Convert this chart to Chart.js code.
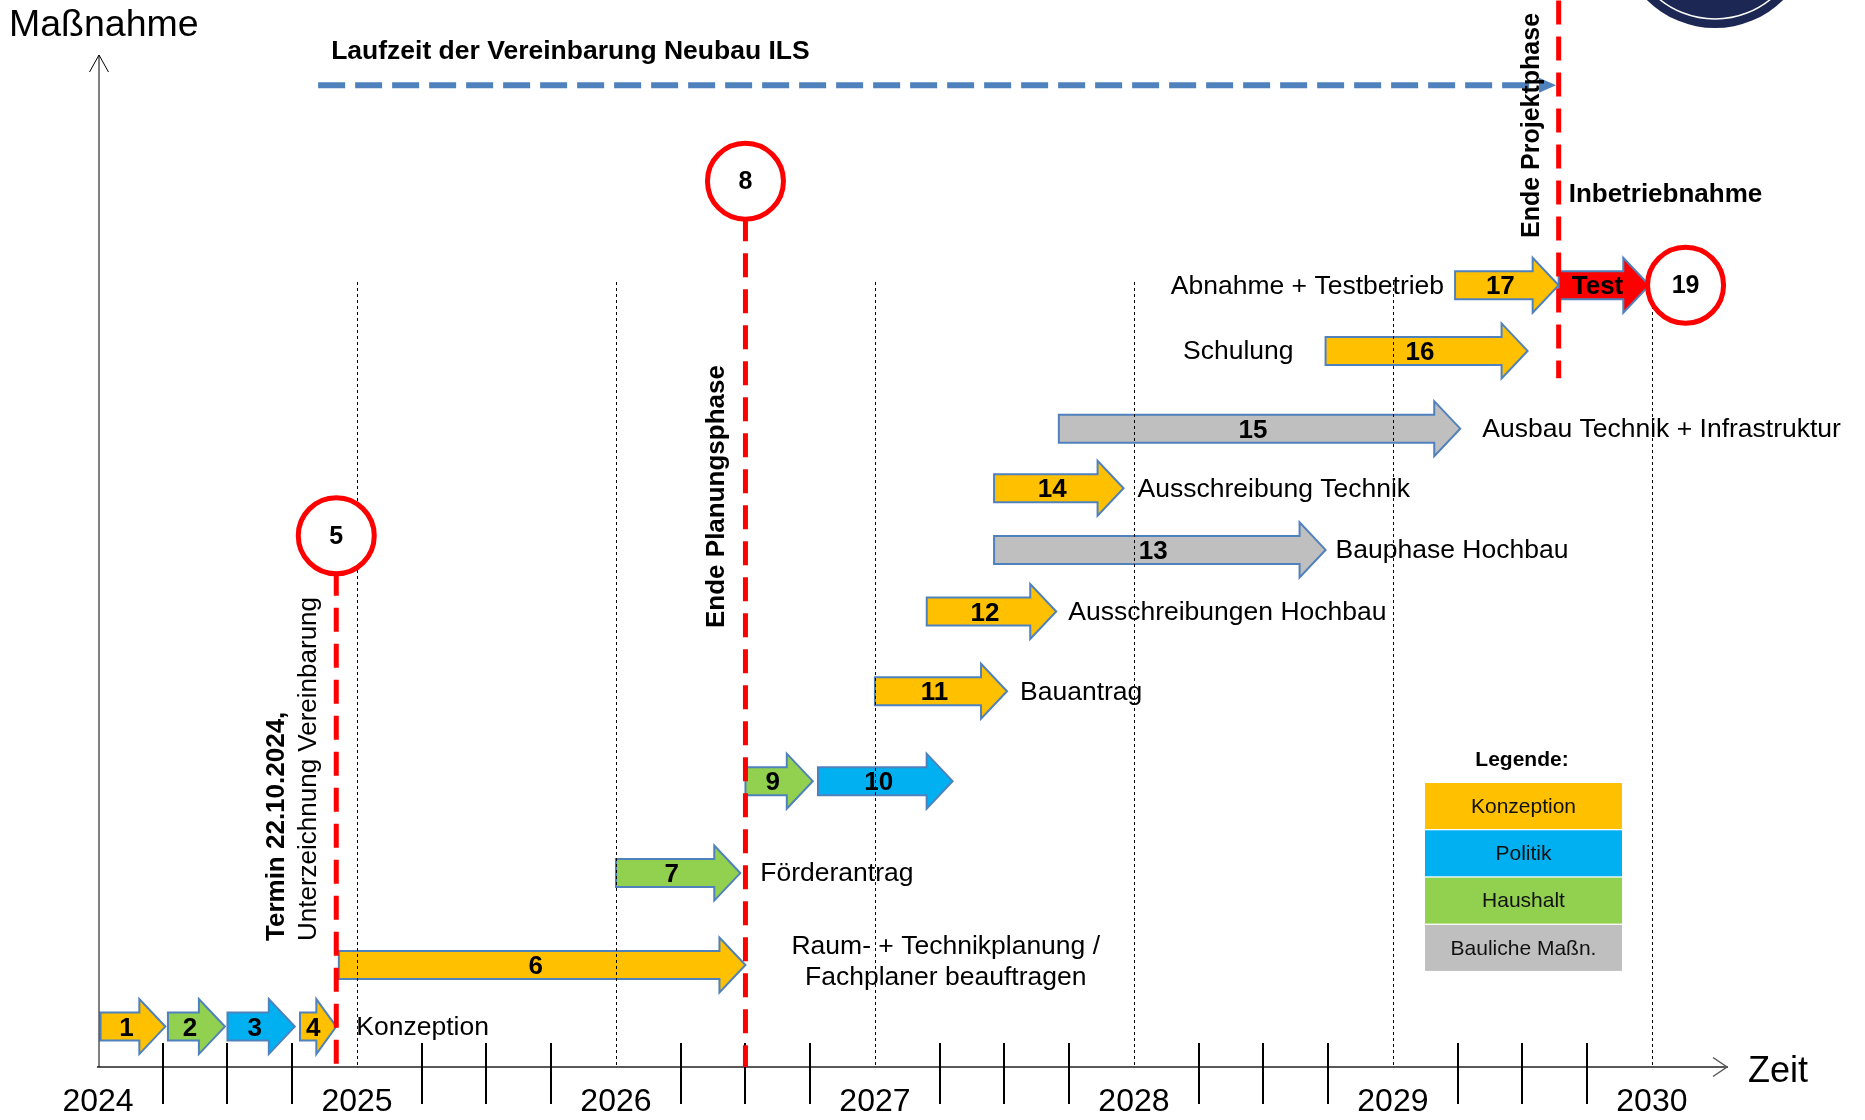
<!DOCTYPE html>
<html lang="de">
<head>
<meta charset="utf-8">
<title>Zeitplan Neubau ILS</title>
<script src="https://cdn.jsdelivr.net/npm/chart.js@4.4.1/dist/chart.umd.min.js"></script>
<style>
  html, body { margin: 0; padding: 0; background: #fff; }
  canvas { display: block; }
</style>
</head>
<body>
<canvas id="chart" width="1865" height="1120"></canvas>
<script>
// legend categories
const categories = ['Konzeption', 'Politik', 'Haushalt', 'Bauliche Maßn.'];
const categoryColors = ['#FFC000', '#00B0F0', '#92D050', '#BFBFBF'];

// measures (arrows): time span in years, row level 0..100
const arrowIds   = ['1', '2', '3', '4', '6', '7', '9', '10', '11', '12', '13', '14', '15', '16', '17', 'Test'];
const arrowStart = [2024.01, 2024.27, 2024.50, 2024.78, 2024.93, 2026.00, 2026.50, 2026.78, 2027.00, 2027.20, 2027.46, 2027.46, 2027.71, 2028.74, 2029.24, 2029.64];
const arrowEnd   = [2024.26, 2024.49, 2024.76, 2024.92, 2026.50, 2026.48, 2026.76, 2027.30, 2027.51, 2027.70, 2028.74, 2027.96, 2029.26, 2029.52, 2029.64, 2029.99];
const arrowRow   = [4.0, 4.0, 4.0, 4.0, 10.1, 19.2, 28.3, 28.3, 37.2, 45.1, 51.2, 57.3, 63.2, 70.9, 77.4, 77.4];
const arrowType  = ['Konzeption', 'Haushalt', 'Politik', 'Konzeption', 'Konzeption', 'Haushalt', 'Haushalt', 'Politik',
                    'Konzeption', 'Konzeption', 'Bauliche Maßn.', 'Konzeption', 'Bauliche Maßn.', 'Konzeption', 'Konzeption', 'Test'];
const arrowText  = ['', '', '', 'Konzeption', 'Raum- + Technikplanung /\nFachplaner beauftragen', 'Förderantrag', '', '',
                    'Bauantrag', 'Ausschreibungen Hochbau', 'Bauphase Hochbau', 'Ausschreibung Technik',
                    'Ausbau Technik + Infrastruktur', 'Schulung', 'Abnahme + Testbetrieb', ''];

// milestones (red circles)
const milestoneIds  = ['5', '8', '19'];
const milestoneTime = [2024.92, 2026.50, 2030.13];
const milestoneRow  = [52.6, 87.7, 77.4];

// phase borders (red dashed lines)
const phaseTime = [2024.92, 2026.50, 2029.64];
const phaseFrom = [0, 0, 68.2];
const phaseTo   = [52.6, 87.7, 105.6];

// runtime of the agreement (blue dashed arrow)
const runtimeSpan = [2024.85, 2029.63];
const runtimeRow = 97.2;

const years = [2024, 2025, 2026, 2027, 2028, 2029, 2030];

const FONT = "'Liberation Sans', Arial, sans-serif";
const OUTLINE = '#4F81BD';
const RED = '#FF0000';

// label placement per arrow (styling only)
const labelStyle = {
  '4': { side: 'right', gap: 20 },
  '6': { side: 'center', gap: 46, dy: -3 },
  '7': { side: 'right', gap: 20 },
  '11': { side: 'right', gap: 13 },
  '12': { side: 'right', gap: 12 },
  '13': { side: 'right', gap: 10 },
  '14': { side: 'right', gap: 14 },
  '15': { side: 'right', gap: 22 },
  '16': { side: 'left', gap: 32 },
  '17': { side: 'left', gap: 11 },
};

function colorFor(type) {
  const i = categories.indexOf(type);
  return i >= 0 ? categoryColors[i] : RED;
}

function drawArrow(ctx, x0, x1, yc, fill) {
  const h = 14, H = 27.5;
  const head = Math.min(26, (x1 - x0) * 0.55);
  ctx.beginPath();
  ctx.moveTo(x0, yc - h);
  ctx.lineTo(x1 - head, yc - h);
  ctx.lineTo(x1 - head, yc - H);
  ctx.lineTo(x1, yc);
  ctx.lineTo(x1 - head, yc + H);
  ctx.lineTo(x1 - head, yc + h);
  ctx.lineTo(x0, yc + h);
  ctx.closePath();
  ctx.fillStyle = fill;
  ctx.fill();
  ctx.lineWidth = 2;
  ctx.strokeStyle = OUTLINE;
  ctx.stroke();
  return head;
}

function rotText(ctx, text, x, y, font) {
  ctx.save();
  ctx.translate(x, y);
  ctx.rotate(-Math.PI / 2);
  ctx.font = font;
  ctx.textAlign = 'left';
  ctx.textBaseline = 'middle';
  ctx.fillStyle = '#000';
  ctx.fillText(text, 0, 0);
  ctx.restore();
}

const ganttPlugin = {
  id: 'gantt',
  // arrows are drawn by hand below, skip the plain bars
  beforeDatasetDraw() {
    return false;
  },
  afterDatasetsDraw(chart) {
    const { ctx, chartArea, scales: { x, y } } = chart;
    ctx.save();

    // logo remnant top right
    ctx.fillStyle = '#1C2853';
    ctx.beginPath();
    ctx.arc(1715, -69, 97, 0, Math.PI * 2);
    ctx.fill();
    ctx.strokeStyle = '#fff';
    ctx.lineWidth = 1.5;
    ctx.beginPath();
    ctx.arc(1715, -69, 88, 0, Math.PI * 2);
    ctx.stroke();

    // runtime arrow
    const rx0 = x.getPixelForValue(runtimeSpan[0]);
    const rx1 = x.getPixelForValue(runtimeSpan[1]);
    const ry = y.getPixelForValue(runtimeRow);
    ctx.setLineDash([27, 10]);
    ctx.lineWidth = 6;
    ctx.strokeStyle = OUTLINE;
    ctx.beginPath();
    ctx.moveTo(rx0, ry);
    ctx.lineTo(rx1 - 17, ry);
    ctx.stroke();
    ctx.setLineDash([]);
    ctx.fillStyle = OUTLINE;
    ctx.beginPath();
    ctx.moveTo(rx1, ry);
    ctx.lineTo(rx1 - 17, ry - 7.5);
    ctx.lineTo(rx1 - 17, ry + 7.5);
    ctx.closePath();
    ctx.fill();
    ctx.fillStyle = '#000';
    ctx.font = 'bold 26.5px ' + FONT;
    ctx.textAlign = 'left';
    ctx.textBaseline = 'middle';
    ctx.fillText('Laufzeit der Vereinbarung Neubau ILS', rx0 + 13, ry - 34);

    // arrows, numbers and labels
    chart.data.datasets.forEach((ds, di) => {
      const meta = chart.getDatasetMeta(di);
      meta.data.forEach((el, j) => {
        const raw = ds.data[j];
        const { x: xe, base, y: yc } = el.getProps(['x', 'base', 'y'], true);
        const head = drawArrow(ctx, base, xe, yc, ds.backgroundColor);

        ctx.fillStyle = '#000';
        ctx.font = 'bold 26px ' + FONT;
        ctx.textAlign = 'center';
        ctx.textBaseline = 'middle';
        ctx.fillText(raw.id, (base + xe) / 2 - head * 0.25, yc + 2);

        if (raw.text) {
          const st = labelStyle[raw.id] || { side: 'right', gap: 14 };
          const lines = raw.text.split('\n');
          ctx.font = '26.5px ' + FONT;
          ctx.textBaseline = 'middle';
          if (st.side === 'center') {
            const w = Math.max(...lines.map(l => ctx.measureText(l).width));
            const cx = xe + st.gap + w / 2;
            ctx.textAlign = 'center';
            lines.forEach((l, k) => {
              ctx.fillText(l, cx, yc + (k - (lines.length - 1) / 2) * 31 + (st.dy || 0));
            });
          } else if (st.side === 'left') {
            ctx.textAlign = 'right';
            ctx.fillText(raw.text, base - st.gap, yc + 1);
          } else {
            ctx.textAlign = 'left';
            ctx.fillText(raw.text, xe + st.gap, yc + 1);
          }
        }
      });
    });

    // dotted year lines
    ctx.strokeStyle = '#000';
    ctx.lineWidth = 1;
    ctx.setLineDash([3, 3]);
    years.slice(1).forEach(v => {
      const px = Math.round(x.getPixelForValue(v)) + 0.5;
      ctx.beginPath();
      ctx.moveTo(px, 282);
      ctx.lineTo(px, chartArea.bottom);
      ctx.stroke();
    });
    ctx.setLineDash([]);

    // quarter ticks crossing the time axis
    ctx.lineWidth = 2;
    for (let q = years[0] * 4 + 1; q < years[years.length - 1] * 4; q++) {
      if (q % 4 === 0) continue;
      const px = Math.round(x.getPixelForValue(q / 4));
      ctx.beginPath();
      ctx.moveTo(px, chartArea.bottom - 24);
      ctx.lineTo(px, chartArea.bottom + 37);
      ctx.stroke();
    }

    // y axis with open arrow
    const ax = chartArea.left + 1;
    ctx.lineWidth = 1;
    ctx.strokeStyle = '#000';
    ctx.beginPath();
    ctx.moveTo(ax, chartArea.bottom);
    ctx.lineTo(ax, 55);
    ctx.moveTo(ax - 9.5, 72);
    ctx.lineTo(ax, 55);
    ctx.lineTo(ax + 9.5, 72);
    ctx.stroke();

    // x axis open arrow
    ctx.strokeStyle = '#595959';
    ctx.lineWidth = 1.5;
    ctx.beginPath();
    ctx.moveTo(chartArea.right - 14, chartArea.bottom - 9.5);
    ctx.lineTo(chartArea.right, chartArea.bottom);
    ctx.lineTo(chartArea.right - 14, chartArea.bottom + 9.5);
    ctx.stroke();

    // red phase lines
    ctx.strokeStyle = RED;
    ctx.lineWidth = 5;
    ctx.setLineDash([24, 12]);
    phaseTime.forEach((t, i) => {
      const px = x.getPixelForValue(t);
      ctx.beginPath();
      ctx.moveTo(px, y.getPixelForValue(phaseTo[i]));
      ctx.lineTo(px, y.getPixelForValue(phaseFrom[i]));
      ctx.stroke();
    });
    ctx.setLineDash([]);

    // milestones
    milestoneIds.forEach((id, i) => {
      const cx = x.getPixelForValue(milestoneTime[i]);
      const cy = y.getPixelForValue(milestoneRow[i]);
      ctx.beginPath();
      ctx.arc(cx, cy, 38, 0, Math.PI * 2);
      ctx.fillStyle = '#fff';
      ctx.fill();
      ctx.lineWidth = 5;
      ctx.strokeStyle = RED;
      ctx.stroke();
      ctx.fillStyle = '#000';
      ctx.font = 'bold 25px ' + FONT;
      ctx.textAlign = 'center';
      ctx.textBaseline = 'middle';
      ctx.fillText(id, cx, cy + 1);
    });

    // phase texts
    const p5 = x.getPixelForValue(phaseTime[0]);
    const p8 = x.getPixelForValue(phaseTime[1]);
    const pEnd = x.getPixelForValue(phaseTime[2]);
    rotText(ctx, 'Termin 22.10.2024,', p5 - 59, 941, 'bold 26px ' + FONT);
    rotText(ctx, 'Unterzeichnung Vereinbarung', p5 - 27, 941, '26px ' + FONT);
    rotText(ctx, 'Ende Planungsphase', p8 - 29, 628, 'bold 26px ' + FONT);
    rotText(ctx, 'Ende Projektphase', pEnd - 27, 238, 'bold 25px ' + FONT);
    ctx.font = 'bold 26px ' + FONT;
    ctx.textAlign = 'left';
    ctx.textBaseline = 'middle';
    ctx.fillStyle = '#000';
    ctx.fillText('Inbetriebnahme', pEnd + 10, 195);

    // legend
    ctx.font = 'bold 21px ' + FONT;
    ctx.textAlign = 'center';
    ctx.fillText('Legende:', 1522, 760);
    categories.forEach((c, i) => {
      const top = 783 + i * 47.3;
      ctx.fillStyle = categoryColors[i];
      ctx.fillRect(1425, top, 197, 46);
      ctx.fillStyle = '#111';
      ctx.font = '21px ' + FONT;
      ctx.fillText(c, 1523.5, top + 24);
    });

    // axis titles
    ctx.fillStyle = '#000';
    ctx.font = '37.5px ' + FONT;
    ctx.textAlign = 'left';
    ctx.fillText('Maßnahme', 9, 26);
    ctx.font = '36px ' + FONT;
    ctx.fillText('Zeit', 1748, 1072);

    ctx.restore();
  }
};

const datasetTypes = categories.concat(['Test']);

new Chart(document.getElementById('chart').getContext('2d'), {
  type: 'bar',
  data: {
    datasets: datasetTypes.map(type => ({
      label: type,
      backgroundColor: colorFor(type),
      grouped: false,
      barThickness: 28,
      data: arrowIds
        .map((id, i) => ({ id, text: arrowText[i], type: arrowType[i], x: [arrowStart[i], arrowEnd[i]], y: arrowRow[i] }))
        .filter(d => d.type === type),
    })),
  },
  options: {
    indexAxis: 'y',
    responsive: false,
    animation: false,
    devicePixelRatio: 1,
    layout: { padding: { left: 98, right: 138, top: 57, bottom: 0 } },
    plugins: {
      legend: { display: false },
      tooltip: { enabled: false },
    },
    scales: {
      x: {
        type: 'linear',
        min: 2024,
        max: 2030.29,
        offset: false,
        grid: { display: false, drawTicks: false },
        border: { display: true, color: '#595959', width: 2 },
        ticks: {
          color: '#000',
          font: { family: FONT, size: 32 },
          padding: 16,
          autoSkip: false,
          maxRotation: 0,
          callback: v => String(v),
        },
        afterBuildTicks: scale => {
          scale.ticks = years.map(v => ({ value: v }));
        },
        afterFit: scale => {
          scale.height = 53;
        },
      },
      y: {
        type: 'linear',
        min: 0,
        max: 100,
        offset: false,
        display: false,
      },
    },
  },
  plugins: [ganttPlugin],
});
</script>
</body>
</html>
